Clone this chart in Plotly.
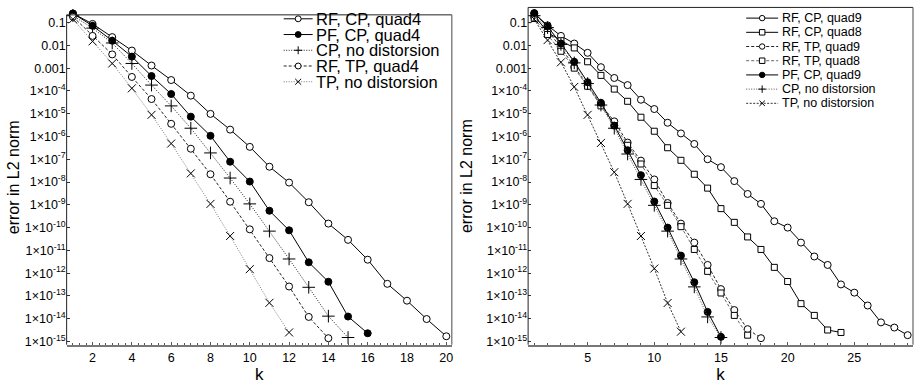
import plotly.graph_objects as go

# ---------------- data ----------------
# Left panel
k_left_rf_cp_q4 = list(range(1, 21))
rf_cp_q4 = [0.25, 0.087, 0.023, 0.0059, 0.0013, 3.0e-4, 6.2e-5, 9.8e-6, 2.0e-6, 3.5e-7,
            4.7e-8, 9.5e-9, 1.3e-9, 1.5e-10, 2.9e-11, 3.9e-12, 3.4e-13, 6.2e-14, 9.7e-15, 1.7e-15]
k_left_pf_cp_q4 = list(range(1, 17))
pf_cp_q4 = [0.25, 0.072, 0.016, 0.0032, 4.5e-4, 7.3e-5, 7.4e-6, 1.07e-6, 7.8e-8, 1.05e-8,
            5.5e-10, 7.6e-11, 3.0e-12, 4.2e-13, 1.25e-14, 2.3e-15]
k_left_cp_nd = list(range(1, 16))
cp_nd_left = [0.2, 0.057, 0.0127, 0.0016, 1.8e-4, 2.2e-5, 2.3e-6, 1.9e-7, 1.5e-8, 1.1e-9,
              7.0e-11, 4.2e-12, 2.4e-13, 1.3e-14, 1.5e-15]
k_left_rf_tp_q4 = list(range(1, 15))
rf_tp_q4 = [0.18, 0.026, 0.004, 4.1e-4, 4.4e-5, 3.6e-6, 2.9e-7, 2.2e-8, 1.37e-9, 8.4e-11,
            4.6e-12, 2.6e-13, 1.2e-14, 1.4e-15]
k_left_tp_nd = list(range(1, 13))
tp_nd_left = [0.14, 0.015, 0.0016, 1.3e-4, 8.9e-6, 4.9e-7, 2.4e-8, 1.1e-9, 4.3e-11, 1.5e-12,
              5.0e-14, 2.5e-15]

# Right panel
k_right_rf_cp_q9 = list(range(1, 30))
rf_cp_q9 = [0.25, 0.075, 0.026, 0.012, 0.0047, 0.0011, 3.7e-4, 1.8e-4, 4.1e-5, 1.6e-5,
            4.0e-6, 1.36e-6, 4.7e-7, 1.0e-7, 4.5e-8, 1.1e-8, 3.0e-9, 1.1e-9, 1.9e-10, 1.0e-10,
            2.2e-11, 5.4e-12, 2.3e-12, 3.2e-13, 1.4e-13, 3.8e-14, 6.9e-15, 4.1e-15, 1.9e-15]
k_right_rf_cp_q8 = list(range(1, 25))
rf_cp_q8 = [0.21, 0.037, 0.016, 0.0077, 0.0019, 4.8e-4, 1.2e-4, 3.5e-5, 7.0e-6, 1.7e-6,
            3.2e-7, 9.0e-8, 2.2e-8, 5.4e-9, 6.8e-10, 1.7e-10, 3.9e-11, 1.1e-11, 1.8e-12, 4.3e-13,
            4.6e-14, 1.4e-14, 3.2e-15, 2.5e-15]
k_right_rf_tp_q9 = list(range(1, 19))
rf_tp_q9 = [0.17, 0.045, 0.008, 0.0011, 1.7e-4, 2.5e-5, 4.6e-6, 5.4e-7, 8.7e-8, 1.3e-8,
            1.2e-9, 1.5e-10, 2.2e-11, 2.3e-12, 2.0e-13, 2.4e-14, 3.5e-15, 1.4e-15]
k_right_rf_tp_q8 = list(range(1, 18))
rf_tp_q8 = [0.15, 0.03, 0.0055, 0.001, 1.6e-4, 2.2e-5, 3.0e-6, 4.1e-7, 6.2e-8, 7.0e-9,
            9.5e-10, 1.1e-10, 1.1e-11, 1.2e-12, 1.35e-13, 1.4e-14, 1.9e-15]
k_right_pf_cp_q9 = list(range(1, 16))
pf_cp_q9 = [0.26, 0.067, 0.012, 0.0019, 2.4e-4, 3.0e-5, 3.0e-6, 2.5e-7, 2.0e-8, 1.4e-9,
            1.0e-10, 5.9e-12, 4.0e-13, 2.0e-14, 1.6e-15]
k_right_cp_nd = list(range(1, 16))
cp_nd_right = [0.2, 0.06, 0.011, 0.0017, 2.1e-4, 2.4e-5, 2.3e-6, 1.7e-7, 1.3e-8, 9.5e-10,
               7.0e-11, 4.2e-12, 2.5e-13, 1.2e-14, 1.5e-15]
k_right_tp_nd = list(range(1, 13))
tp_nd_right = [0.14, 0.017, 0.0018, 1.5e-4, 8.9e-6, 5.2e-7, 2.7e-8, 1.1e-9, 4.3e-11, 1.6e-12,
               4.9e-14, 2.7e-15]

# tick labels
y_tick_vals = [10.0 ** -n for n in range(1, 16)]
y_tick_text = ["0.1", "0.01", "0.001"] + ["1×10<sup>-%d</sup>" % n for n in range(4, 16)]
x_left_ticks = list(range(2, 21, 2))
x_right_ticks = [5, 10, 15, 20, 25]

FONT = "Liberation Sans, Arial, Helvetica, sans-serif"
W, H = 916, 388


def PX(px):
    return px / W


def PY(py):
    return 1 - py / H


# marker styles: kind -> (plotly symbol, fill colour, size)
MARK = {
    "ocircle": ("circle", "white", 7),
    "fcircle": ("circle", "black", 7),
    "osquare": ("square", "white", 6),
    "plus": ("cross-thin", "black", 9),
    "cross": ("x-thin", "black", 8),
}

fig = go.Figure()
shapes = []
annotations = []


def legend_entry(name, kind, dash, color, xline0, xline1, ytext, xtext, fsize, msize):
    # sample line
    shapes.append(dict(type="line", xref="paper", yref="paper",
                       x0=PX(xline0), x1=PX(xline1), y0=PY(ytext), y1=PY(ytext),
                       line=dict(color=color, width=1, dash=dash)))
    cx = (xline0 + xline1) / 2
    r = msize / 2
    if kind in ("ocircle", "fcircle"):
        shapes.append(dict(type="circle", xref="paper", yref="paper",
                           x0=PX(cx - r), x1=PX(cx + r), y0=PY(ytext - r), y1=PY(ytext + r),
                           fillcolor="white" if kind == "ocircle" else "black",
                           line=dict(color="black", width=1)))
    elif kind == "osquare":
        shapes.append(dict(type="rect", xref="paper", yref="paper",
                           x0=PX(cx - r), x1=PX(cx + r), y0=PY(ytext - r), y1=PY(ytext + r),
                           fillcolor="white", line=dict(color="black", width=1)))
    elif kind == "plus":
        r2 = r + 1
        path = "M%f,%f L%f,%f M%f,%f L%f,%f" % (PX(cx - r2), PY(ytext), PX(cx + r2), PY(ytext),
                                                PX(cx), PY(ytext - r2), PX(cx), PY(ytext + r2))
        shapes.append(dict(type="path", xref="paper", yref="paper", path=path,
                           line=dict(color="black", width=1)))
    elif kind == "cross":
        path = "M%f,%f L%f,%f M%f,%f L%f,%f" % (PX(cx - r), PY(ytext - r), PX(cx + r), PY(ytext + r),
                                                PX(cx - r), PY(ytext + r), PX(cx + r), PY(ytext - r))
        shapes.append(dict(type="path", xref="paper", yref="paper", path=path,
                           line=dict(color="black", width=1)))
    annotations.append(dict(text=name, xref="paper", yref="paper", x=PX(xtext), y=PY(ytext),
                            xanchor="left", yanchor="middle", showarrow=False,
                            font=dict(family=FONT, size=fsize, color="black")))


def add(xs, ys, name, kind, dash, color, xa, ya):
    sym, fill, size = MARK[kind]
    fig.add_trace(go.Scatter(
        x=xs, y=ys, name=name, mode="lines+markers", showlegend=False,
        xaxis=xa, yaxis=ya, cliponaxis=False,
        line=dict(color=color, width=1, dash=dash),
        marker=dict(symbol=sym, size=size, color=fill, line=dict(color="black", width=1)),
    ))


left_series = [
    (k_left_rf_cp_q4, rf_cp_q4, "RF, CP, quad4", "ocircle", "solid", "black"),
    (k_left_pf_cp_q4, pf_cp_q4, "PF, CP, quad4", "fcircle", "solid", "black"),
    (k_left_cp_nd, cp_nd_left, "CP, no distorsion", "plus", "1px,1.5px", "#222"),
    (k_left_rf_tp_q4, rf_tp_q4, "RF, TP, quad4", "ocircle", "3px,2px", "#222"),
    (k_left_tp_nd, tp_nd_left, "TP, no distorsion", "cross", "1px,1.5px", "#777"),
]
right_series = [
    (k_right_rf_cp_q9, rf_cp_q9, "RF, CP, quad9", "ocircle", "solid", "black"),
    (k_right_rf_cp_q8, rf_cp_q8, "RF, CP, quad8", "osquare", "solid", "black"),
    (k_right_rf_tp_q9, rf_tp_q9, "RF, TP, quad9", "ocircle", "3px,2px", "#222"),
    (k_right_rf_tp_q8, rf_tp_q8, "RF, TP, quad8", "osquare", "3px,2px", "#666"),
    (k_right_pf_cp_q9, pf_cp_q9, "PF, CP, quad9", "fcircle", "solid", "black"),
    (k_right_cp_nd, cp_nd_right, "CP, no distorsion", "plus", "1px,1.5px", "#555"),
    (k_right_tp_nd, tp_nd_right, "TP, no distorsion", "cross", "2px,1.5px", "#333"),
]

for i, (xs, ys, name, kind, dash, color) in enumerate(left_series):
    add(xs, ys, name, kind, dash, color, "x", "y")
    legend_entry(name, kind, dash, color, 284, 313, 19 + i * 15.9, 314, 16.5, 6)

for i, (xs, ys, name, kind, dash, color) in enumerate(right_series):
    add(xs, ys, name, kind, dash, color, "x2", "y2")
    legend_entry(name, kind, dash, color, 747, 779, 18.3 + i * 14.35, 780.5, 12.5, 5.5)

# frames (top, right, left borders); bottom comes from the x axis line
for (l, r, t, b) in [(66.7, 452.3, 15, 348.3), (528.7, 914, 7.5, 348.3)]:
    shapes.append(dict(type="line", xref="paper", yref="paper", x0=PX(l), x1=PX(r), y0=PY(t), y1=PY(t),
                       line=dict(color="#222", width=1)))
    shapes.append(dict(type="line", xref="paper", yref="paper", x0=PX(r), x1=PX(r), y0=PY(t), y1=PY(b),
                       line=dict(color="#666", width=1.2)))
    shapes.append(dict(type="line", xref="paper", yref="paper", x0=PX(l), x1=PX(l), y0=PY(t), y1=PY(b),
                       line=dict(color="#222", width=1)))

tickfont = dict(family=FONT, size=12.5, color="black")
x_common = dict(showline=True, mirror=False, linecolor="#777", linewidth=1.6,
                ticks="inside", ticklen=3, tickcolor="#555", showgrid=False, zeroline=False,
                tickfont=tickfont)
y_common = dict(showline=False, type="log", tickvals=y_tick_vals, ticktext=y_tick_text,
                ticks="inside", ticklen=3, tickcolor="#333", showgrid=False, zeroline=False,
                tickfont=tickfont)
ytitle_font = dict(family=FONT, size=16, color="black")

ppd = 23.02  # pixels per decade
bottom_px = 348.3
bottom_log = -15.14
left_top_log = -0.45
right_top_log = -0.34
left_top_px = bottom_px - (left_top_log - bottom_log) * ppd
right_top_px = bottom_px - (right_top_log - bottom_log) * ppd

fig.update_layout(
    width=W, height=H,
    margin=dict(l=0, r=0, t=0, b=0),
    paper_bgcolor="white", plot_bgcolor="white",
    font=dict(family=FONT, color="black"),
    showlegend=False,
    xaxis=dict(x_common, domain=[PX(66.7), PX(452.3)], range=[0.68, 20.28],
               tickvals=x_left_ticks, anchor="y",
               minor=dict(dtick=1 / 3, tick0=0, ticks="inside", ticklen=2, tickcolor="#555"),
               title=dict(text="k", font=dict(family=FONT, size=17, color="black"), standoff=3)),
    yaxis=dict(y_common, domain=[PY(bottom_px), PY(left_top_px)], range=[bottom_log, left_top_log],
               anchor="x", title=dict(text="error in L2 norm", font=ytitle_font, standoff=1)),
    xaxis2=dict(x_common, domain=[PX(528.7), PX(914)], range=[0.54, 29.4],
                tickvals=x_right_ticks, anchor="y2",
                minor=dict(dtick=1, tick0=0, ticks="inside", ticklen=2, tickcolor="#555"),
                title=dict(text="k", font=dict(family=FONT, size=17, color="black"), standoff=3)),
    yaxis2=dict(y_common, domain=[PY(bottom_px), PY(right_top_px)], range=[bottom_log, right_top_log],
                anchor="x2", title=dict(text="error in L2 norm", font=ytitle_font, standoff=9)),
    shapes=shapes,
    annotations=annotations,
)

fig.write_html("out.html", config={"displayModeBar": False},
               post_script="document.body.style.margin='0px';")
